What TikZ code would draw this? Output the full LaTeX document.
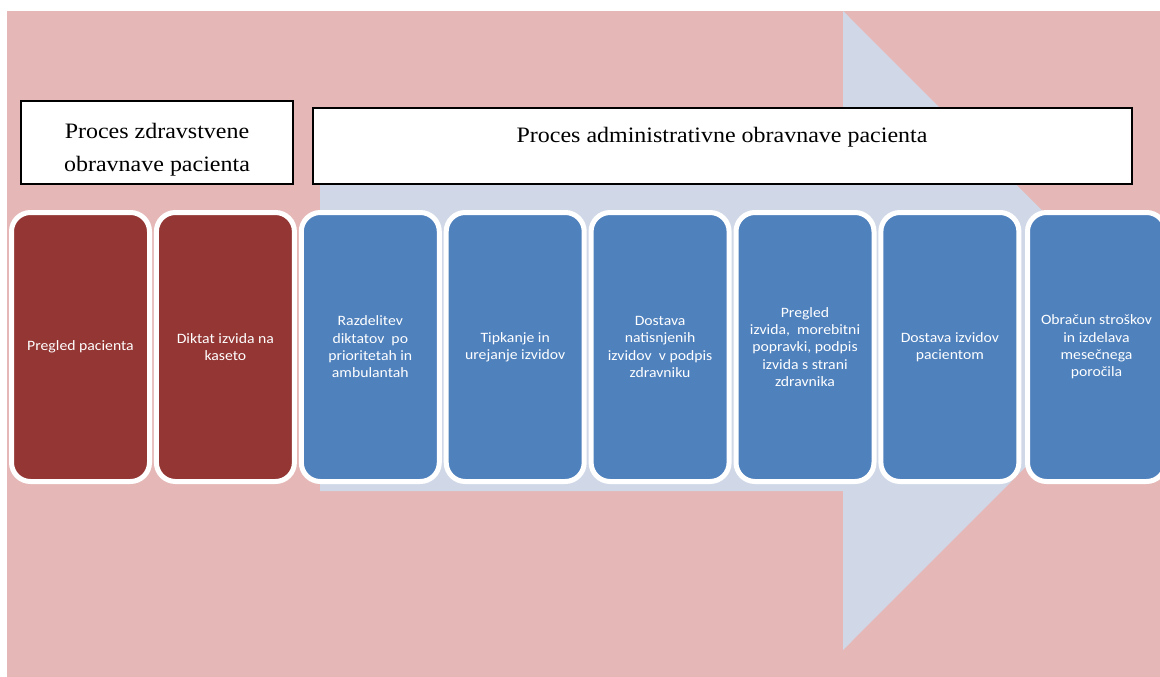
\documentclass[tikz,border=0pt]{standalone}
\usepackage{fontspec}
\newfontfamily\cardfont[FakeStretch=1.1]{Carlito}
\newfontfamily\headfont[FakeStretch=1.09]{Liberation Serif}
\definecolor{bgpink}{HTML}{E5B8B7}
\definecolor{arrowblue}{HTML}{D0D8E8}
\definecolor{cardred}{HTML}{943634}
\definecolor{cardblue}{HTML}{4F81BD}
\tikzset{
  card/.style={rounded corners=19pt, draw=white, line width=5pt, minimum width=138pt,
    minimum height=269pt, inner sep=0pt, text=white, align=center,
    font=\cardfont\fontsize{14.3pt}{17.3pt}\selectfont},
  redcard/.style={card, fill=cardred},
  bluecard/.style={card, fill=cardblue},
  headbox/.style={draw=black, line width=2pt, fill=white, inner sep=0pt},
  headtext/.style={align=center, inner sep=0pt, font=\headfont\fontsize{22pt}{33pt}\selectfont}
}
\begin{document}
\begin{tikzpicture}[x=1pt, y=-1pt]
\useasboundingbox (0,0) rectangle (1160,677);
% background
\fill[bgpink] (7,11) rectangle (1160,677);
% big arrow
\fill[arrowblue] (320,170) -- (843,170) -- (843,11) -- (1162,330.5) -- (843,650)
  -- (843,491) -- (320,491) -- cycle;
% header boxes
\node[headbox, minimum width=272pt, minimum height=83pt] (h1) at (157,142.5) {};
\node[headtext] (h1t) at (157,149.5) {Proces zdravstvene\\obravnave pacienta};
\node[headbox, minimum width=819pt, minimum height=76pt] (h2) at (722.5,146) {};
\node[headtext] (h2t) at (722,137) {Proces administrativne obravnave pacienta};
% cards
\node[redcard] (c1) at (80.5,347) {Pregled pacienta};
\node[redcard] (c2) at (225.4,347) {Diktat izvida na\\kaseto};
\node[bluecard] (c3) at (370.3,347) {Razdelitev\\diktatov~ po\\prioritetah in\\ambulantah};
\node[bluecard] (c4) at (515.2,347) {Tipkanje in\\urejanje izvidov};
\node[bluecard] (c5) at (660.1,347) {Dostava\\natisnjenih\\izvidov~ v podpis\\zdravniku};
\node[bluecard] (c6) at (805.0,347) {Pregled\\izvida,~ morebitni\\popravki, podpis\\izvida s strani\\zdravnika};
\node[bluecard] (c7) at (949.9,347) {Dostava izvidov\\pacientom};
\node[bluecard] (c8) at (1096.5,347) {Obračun stroškov\\in izdelava\\mesečnega\\poročila};
\end{tikzpicture}
\end{document}
